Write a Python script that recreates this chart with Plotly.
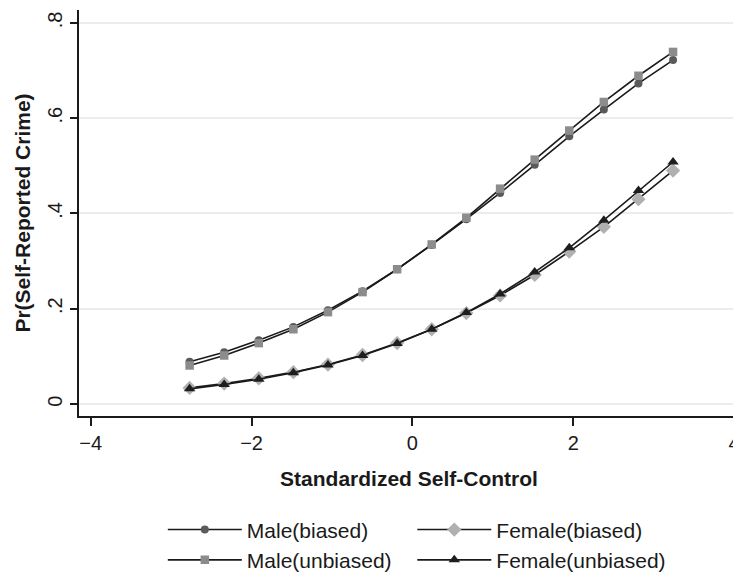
import plotly.graph_objects as go

# Data
self_control = [-2.77, -2.34, -1.91, -1.48, -1.05, -0.62, -0.19, 0.24, 0.67, 1.09, 1.52, 1.95, 2.38, 2.81, 3.24]
male_biased = [0.089, 0.109, 0.134, 0.162, 0.197, 0.237, 0.283, 0.334, 0.388, 0.443, 0.502, 0.562, 0.618, 0.673, 0.722]
male_unbiased = [0.081, 0.102, 0.128, 0.157, 0.193, 0.235, 0.283, 0.335, 0.391, 0.452, 0.513, 0.574, 0.634, 0.689, 0.739]
female_biased = [0.034, 0.043, 0.054, 0.067, 0.083, 0.103, 0.128, 0.157, 0.191, 0.228, 0.271, 0.320, 0.372, 0.430, 0.490]
female_unbiased = [0.032, 0.041, 0.052, 0.066, 0.082, 0.102, 0.127, 0.157, 0.192, 0.231, 0.277, 0.328, 0.386, 0.448, 0.508]

y_tickvals = [0, 0.2, 0.4, 0.6, 0.8]
y_ticktext = ["0", ".2", ".4", ".6", ".8"]
x_tickvals = [-4, -2, 0, 2, 4]

FONT = "Liberation Sans, Arial, Helvetica, sans-serif"

fig = go.Figure()

series = [
    ("Male(biased)", male_biased, "circle", 8, "#5a5a5a", 1, "legend"),
    ("Female(biased)", female_biased, "diamond", 11, "#b0b0b0", 1, "legend2"),
    ("Male(unbiased)", male_unbiased, "square", 8.5, "#8c8c8c", 2, "legend"),
    ("Female(unbiased)", female_unbiased, "triangle-up", 10, "#1e1e1e", 2, "legend2"),
]
for name, ys, sym, size, col, rank, leg in series:
    fig.add_trace(go.Scatter(
        x=self_control, y=ys, mode="lines+markers", name=name,
        line=dict(color="#1a1a1a", width=1.6),
        marker=dict(symbol=sym, size=size, color=col, line=dict(width=0)),
        legendrank=rank, legend=leg,
    ))

legend_common = dict(
    orientation="v", y=-0.23, yanchor="top",
    font=dict(size=21, color="#1a1a1a"),
    itemwidth=74, bgcolor="rgba(0,0,0,0)", xanchor="left",
)

# page body adds an 8px offset, so the figure is sized to the remaining area
fig.update_layout(
    width=733, height=566,
    margin=dict(l=71, r=2, t=2, b=158, autoexpand=False),
    paper_bgcolor="white", plot_bgcolor="white",
    font=dict(family=FONT, size=20, color="#1a1a1a"),
    showlegend=True,
    legend=dict(x=0.127, **legend_common),
    legend2=dict(x=0.505, **legend_common),
    xaxis=dict(
        range=[-4.145, 4.06], tickvals=x_tickvals,
        showgrid=False, zeroline=False,
        showline=True, linecolor="#1a1a1a", linewidth=2,
        ticks="outside", ticklen=8, tickwidth=2, tickcolor="#1a1a1a",
        tickfont=dict(size=20), ticklabeloverflow="allow",
        title=dict(text="Standardized Self-Control", font=dict(size=21, weight="bold"), standoff=18),
    ),
    yaxis=dict(
        range=[-0.025, 0.827], tickvals=y_tickvals, ticktext=y_ticktext,
        tickangle=-90,
        showgrid=True, gridcolor="#ececec", gridwidth=1.5, zeroline=False,
        showline=True, linecolor="#1a1a1a", linewidth=2,
        ticks="outside", ticklen=7, tickwidth=2, tickcolor="#1a1a1a",
        tickfont=dict(size=20),
        title=dict(text="Pr(Self-Reported Crime)", font=dict(size=21, weight="bold"), standoff=8),
    ),
)

fig.write_html("out.html")
